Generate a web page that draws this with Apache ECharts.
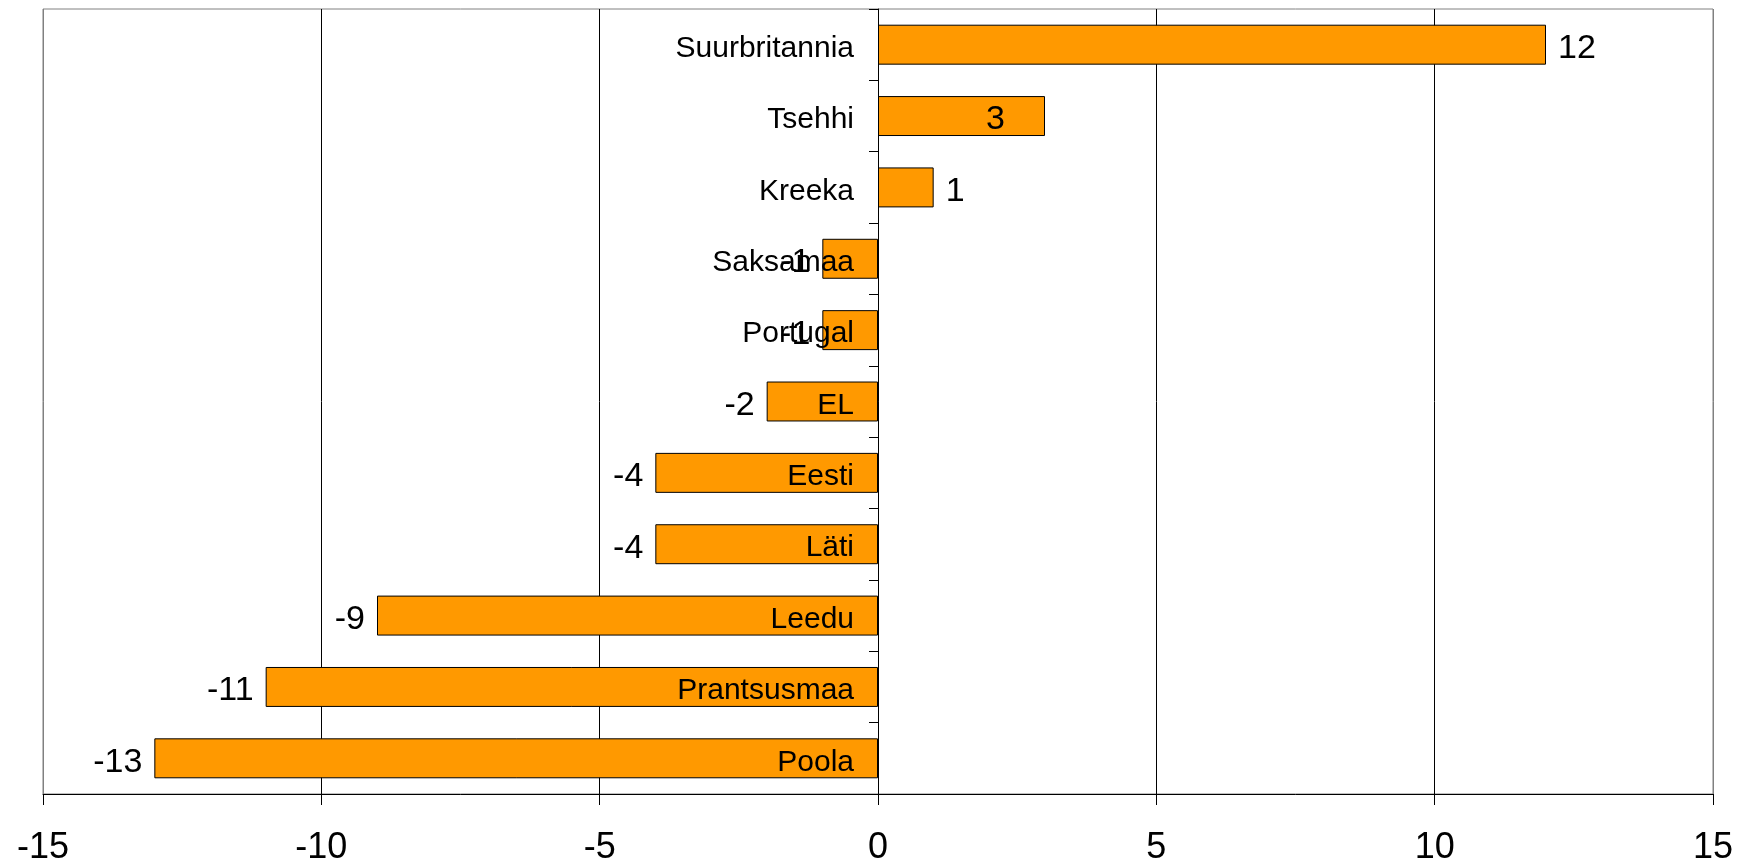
<!DOCTYPE html>
<html>
<head>
<meta charset="utf-8">
<script src="https://cdn.jsdelivr.net/npm/echarts@6/dist/echarts.min.js"></script>
<style>
  html, body { margin: 0; padding: 0; background: #fff; }
  #myChart { width: 1744px; height: 865px; }
</style>
</head>
<body>
<div id="myChart"></div>
<script>
// riigid ülevalt alla
const categories = ['Suurbritannia', 'Tsehhi', 'Kreeka', 'Saksamaa', 'Portugal', 'EL', 'Eesti', 'Läti', 'Leedu', 'Prantsusmaa', 'Poola']
const values = [12, 3, 1, -1, -1, -2, -4, -4, -9, -11, -13]
const xTicks = [-15, -10, -5, 0, 5, 10, 15]

const font = 'Liberation Sans, Arial, sans-serif'
const gridLeft = 43
const gridRight = 31
const chartWidth = 1744

// positiivsed paremale, negatiivsed vasakule; Tsehhi silt jääb tulba sisse nagu originaalis
const barData = values.map((v, i) => {
  const item = { value: v, label: { position: v >= 0 ? 'right' : 'left' } }
  if (categories[i] === 'Tsehhi') {
    item.label = { position: 'insideRight', distance: 40 }
  }
  return item
})

// y-telg nulli kohale (v6 ei vii silte onZero-ga kaasa)
const xMin = xTicks[0]
const xMax = xTicks[xTicks.length - 1]
const plotW = chartWidth - gridLeft - gridRight
const zeroOffset = -plotW * (0 - xMin) / (xMax - xMin)

const myChart = echarts.init(document.getElementById('myChart'))
myChart.setOption({
  animation: false,
  grid: {
    left: gridLeft,
    right: gridRight,
    top: 9,
    bottom: 71,
    containLabel: false,
    outerBoundsMode: 'none',
    show: true,
    borderColor: '#808080',
    borderWidth: 1
  },
  xAxis: {
    type: 'value',
    min: xMin,
    max: xMax,
    interval: 5,
    axisLine: { show: true, onZero: false, lineStyle: { color: '#000', width: 1 } },
    axisTick: { show: true, length: 11, lineStyle: { color: '#000' } },
    axisLabel: {
      color: '#000',
      fontSize: 36,
      fontFamily: font,
      margin: 36
    },
    splitLine: {
      show: true,
      lineStyle: {
        color: ['#808080', '#000', '#000', '#000', '#000', '#000', '#808080'],
        width: 1
      }
    }
  },
  yAxis: {
    type: 'category',
    data: categories,
    inverse: true,
    position: 'left',
    offset: zeroOffset,
    z: 10,
    axisLine: { show: true, onZero: false, lineStyle: { color: '#000', width: 1 } },
    axisTick: { show: true, length: 9, lineStyle: { color: '#000' } },
    axisLabel: {
      color: '#000',
      fontSize: 30,
      fontFamily: font,
      margin: 24,
      formatter: '{a|{value}}',
      rich: {
        a: { fontSize: 30, fontFamily: font, color: '#000', padding: [8, 0, 0, 0] }
      }
    },
    splitLine: { show: false }
  },
  series: [{
    type: 'bar',
    data: barData,
    barCategoryGap: '44%',
    itemStyle: {
      color: '#FF9900',
      borderColor: '#000',
      borderWidth: 1
    },
    label: {
      show: true,
      color: '#000',
      fontSize: 34,
      fontFamily: font,
      distance: 12,
      offset: [0, 4]
    }
  }]
})
</script>
</body>
</html>
